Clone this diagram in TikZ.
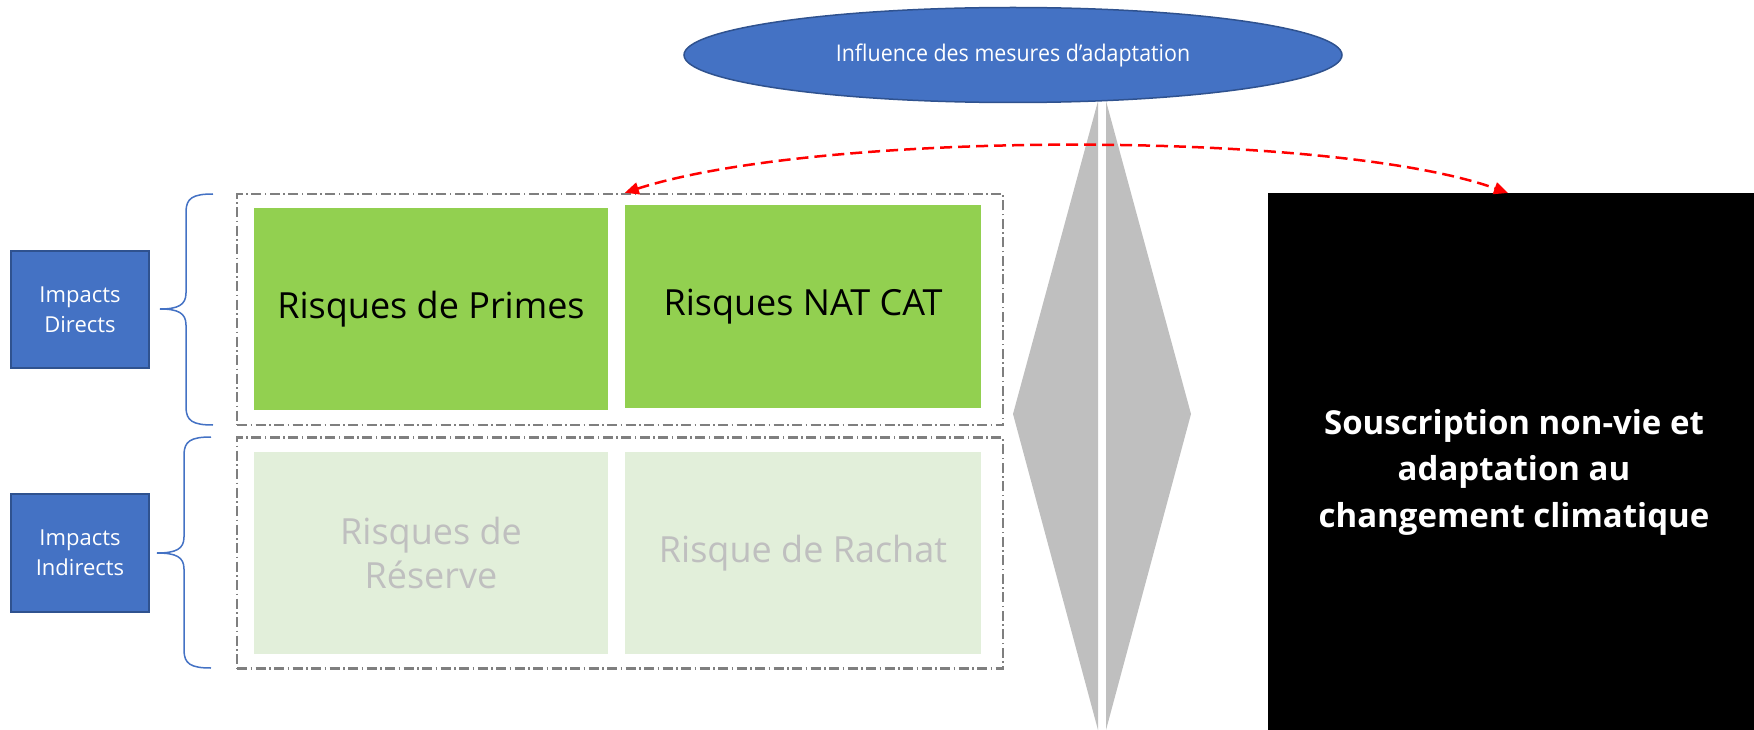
\documentclass[tikz,border=0pt]{standalone}
\usepackage{fontspec}
\setmainfont{Open Sans}
\newfontfamily\ellfont[FakeStretch=0.93]{Open Sans}
\usetikzlibrary{arrows.meta,shapes.geometric}
\definecolor{blueA}{HTML}{4472C4}
\definecolor{blueB}{HTML}{2F528F}
\definecolor{greenA}{HTML}{92D050}
\definecolor{greenL}{HTML}{E2EFDA}
\definecolor{grayT}{HTML}{BFBFBF}
\definecolor{grayD}{HTML}{7F7F7F}
\definecolor{grayF}{HTML}{BFBFBF}
\tikzset{
  impactbox/.style={draw=blueB, line width=2pt, fill=blueA, text=white,
    font=\fontsize{22}{30}\selectfont, align=center, inner sep=0pt,
    minimum width=138pt, minimum height=117pt},
  riskbox/.style={fill=greenA, text=black, font=\fontsize{36}{44}\selectfont,
    align=center, inner sep=0pt, minimum width=354pt, minimum height=202pt},
  lightbox/.style={fill=greenL, text=grayT, font=\fontsize{36}{44}\selectfont,
    align=center, inner sep=0pt, minimum width=354pt, minimum height=202pt},
  groupbox/.style={draw=grayD, line width=2.5pt,
    dash pattern=on 10pt off 3.5pt on 1.5pt off 3.5pt, inner sep=0pt,
    minimum width=766pt, minimum height=231pt},
  bracepath/.style={draw=blueA, line width=1.5pt},
  redarrow/.style={draw=red, line width=2.5pt, dash pattern=on 12pt off 6pt,
    {Triangle[length=14pt,width=12pt]}-{Triangle[length=14pt,width=12pt]}},
  wedge/.style={fill=grayF, draw=none},
  ellnode/.style={ellipse, draw=blueB, line width=1.5pt, fill=blueA, text=white,
    font=\ellfont\fontsize{23}{28}\selectfont, inner sep=0pt,
    minimum width=658pt, minimum height=95pt},
  blackbox/.style={fill=black, text=white, font=\bfseries\fontsize{33}{46.5}\selectfont,
    align=center, inner sep=0pt, minimum width=492pt, minimum height=558pt}
}
\begin{document}
\begin{tikzpicture}[x=1pt,y=-1pt]
\useasboundingbox (0,0) rectangle (1754,730);

% gray wedges (diamond split by a white gap)
\fill[wedge] (1098,101) -- (1013,414) -- (1098,730) -- cycle;
\fill[wedge] (1106,101) -- (1191,414) -- (1106,730) -- cycle;

% ellipse
\node[ellnode] (ell) at (1013,55) {Influence des mesures d’adaptation};

% group boxes
\node[groupbox] (grp1) at (620,309.5) {};
\node[groupbox] (grp2) at (620,553) {};

% risk boxes
\node[riskbox] (prime) at (431,309) {Risques de Primes};
\node[riskbox, minimum width=356pt, minimum height=203pt] (nat) at (803,306.5) {Risques NAT CAT};
\node[lightbox] (reserve) at (431,553) {Risques de\\Réserve};
\node[lightbox, minimum width=356pt] (rachat) at (803,553) {Risque de Rachat};

% impact boxes
\node[impactbox] (direct) at (80,309.5) {Impacts\\Directs};
\node[impactbox, minimum height=118pt] (indirect) at (80,553) {Impacts\\Indirects};

% braces
\draw[bracepath] (213,194) .. controls (193,194) and (186,198) .. (186,212)
  -- (186,293) .. controls (186,305) and (178,309) .. (160,309)
  .. controls (178,309) and (186,313) .. (186,325)
  -- (186,407) .. controls (186,421) and (193,425) .. (213,425);
\draw[bracepath] (211,437) .. controls (191,437) and (184,441) .. (184,455)
  -- (184,537) .. controls (184,549) and (176,553) .. (157,553)
  .. controls (176,553) and (184,557) .. (184,569)
  -- (184,650) .. controls (184,664) and (191,668) .. (211,668);

% black box
\node[blackbox] (souscr) at (1514,472) {Souscription non-vie et\\adaptation au\\changement climatique};

% red dashed double arrow
\coordinate (aL) at (grp1.north -| nat.west);
\coordinate (aR) at (1508,193);
\draw[redarrow] (aL) .. controls (820,130) and (1333,130) .. (aR);
\end{tikzpicture}
\end{document}
